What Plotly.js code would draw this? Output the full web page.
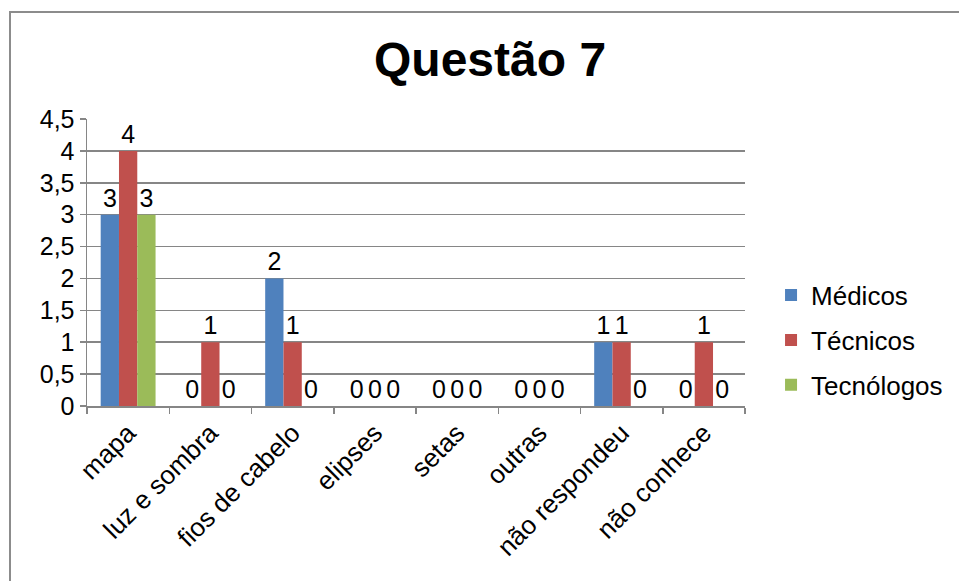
<!DOCTYPE html>
<html>
<head>
<meta charset="utf-8">
<script src="https://cdn.plot.ly/plotly-3.0.1.min.js"></script>
<style>
  html, body { margin: 0; padding: 0; background: #fff; }
  #chart { width: 959px; height: 581px; }
  #frame { position: absolute; left: 9px; top: 11px; width: 1000px; height: 1000px;
           border-left: 2px solid #8c8c8c; border-top: 2px solid #8c8c8c; pointer-events: none; }
</style>
</head>
<body>
<div id="chart"></div>
<div id="frame"></div>
<script>
const categories = ["mapa", "luz e sombra", "fios de cabelo", "elipses", "setas", "outras", "não respondeu", "não conhece"];
const medicos    = [3, 0, 2, 0, 0, 0, 1, 0];
const tecnicos   = [4, 1, 1, 0, 0, 0, 1, 1];
const tecnologos = [3, 0, 0, 0, 0, 0, 0, 0];
const seriesNames = ["Médicos", "Técnicos", "Tecnólogos"];
const colors = ["#4F81BD", "#C0504D", "#9BBB59"];
const yTicks = [0, 0.5, 1, 1.5, 2, 2.5, 3, 3.5, 4, 4.5];

const font = "Liberation Sans, Arial, sans-serif";
const series = [medicos, tecnicos, tecnologos];
const traces = series.map((vals, i) => ({
  type: "bar",
  name: seriesNames[i],
  x: categories,
  y: vals,
  marker: { color: colors[i] },
  text: vals.map(String),
  textposition: "outside",
  textfont: { family: font, size: 25, color: "#000" },
  constraintext: "none",
  cliponaxis: false,
  legendgroup: "g" + i,
  hoverinfo: "none"
}));

const layout = {
  width: 959, height: 581,
  margin: { l: 87, r: 213, t: 119, b: 175 },
  paper_bgcolor: "#fff", plot_bgcolor: "#fff",
  separators: ",.",
  barmode: "group",
  bargap: 0.333,
  bargroupgap: 0,
  font: { family: font, color: "#000" },
  title: { text: "<b>Questão 7</b>", font: { family: font, size: 48, color: "#000" },
           x: 0.511, xanchor: "center", y: 0.898, yanchor: "middle" },
  xaxis: {
    type: "category",
    tickangle: -45,
    tickfont: { family: font, size: 26, color: "#000" },
    showline: true, linecolor: "#868686", linewidth: 1.5,
    ticks: "outside", ticklen: 6, tickcolor: "#868686", tickwidth: 1.5,
    tickson: "boundaries",
    showgrid: false
  },
  yaxis: {
    range: [0, 4.5],
    tickvals: yTicks,
    ticktext: yTicks.map(v => String(v).replace(".", ",")),
    tickfont: { family: font, size: 25, color: "#000" },
    showline: true, linecolor: "#868686", linewidth: 1.5,
    ticks: "outside", ticklen: 6, tickcolor: "#868686", tickwidth: 1.5,
    showgrid: true, gridcolor: "#868686", gridwidth: 1.5,
    zeroline: false
  },
  showlegend: true,
  legend: {
    x: 1.038, xanchor: "left", y: 0.468, yanchor: "top",
    font: { family: font, size: 26, color: "#000" },
    traceorder: "grouped", tracegroupgap: 8,
    itemwidth: 30
  }
};

Plotly.newPlot("chart", traces, layout, { staticPlot: true });
</script>
</body>
</html>
